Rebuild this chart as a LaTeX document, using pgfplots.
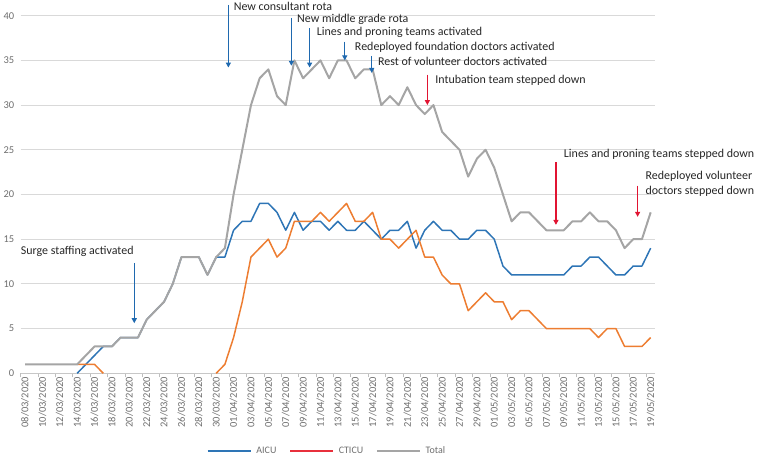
\documentclass[border=0pt]{standalone}
\usepackage{fontspec}
\setmainfont{Carlito}
\usepackage{pgfplots}
\pgfplotsset{compat=1.18}
\usepackage{pgfplotstable}
\usetikzlibrary{arrows.meta}

\definecolor{aicu}{RGB}{46,117,182}
\definecolor{cticu}{RGB}{237,125,49}
\definecolor{cticuleg}{RGB}{232,48,60}
\definecolor{total}{RGB}{165,165,165}
\definecolor{arrblue}{RGB}{31,105,175}
\definecolor{arrred}{RGB}{225,20,50}
\definecolor{gridc}{RGB}{217,217,217}
\definecolor{tickc}{RGB}{110,110,110}

% day index 0 = 08/03/2020 ... 72 = 19/05/2020
\pgfplotstableread{
i  aicu cticu total
0  nan  nan   1
1  nan  nan   1
2  nan  nan   1
3  nan  nan   1
4  nan  nan   1
5  nan  nan   1
6  0    1     1
7  1    1     2
8  2    1     3
9  3    0     3
10 3    nan   3
11 4    nan   4
12 4    nan   4
13 4    nan   4
14 6    nan   6
15 7    nan   7
16 8    nan   8
17 10   nan   10
18 13   nan   13
19 13   nan   13
20 13   nan   13
21 11   nan   11
22 13   0     13
23 13   1     14
24 16   4     20
25 17   8     25
26 17   13    30
27 19   14    33
28 19   15    34
29 18   13    31
30 16   14    30
31 18   17    35
32 16   17    33
33 17   17    34
34 17   18    35
35 16   17    33
36 17   18    35
37 16   19    35
38 16   17    33
39 17   17    34
40 16   18    34
41 15   15    30
42 16   15    31
43 16   14    30
44 17   15    32
45 14   16    30
46 16   13    29
47 17   13    30
48 16   11    27
49 16   10    26
50 15   10    25
51 15   7     22
52 16   8     24
53 16   9     25
54 15   8     23
55 12   8     20
56 11   6     17
57 11   7     18
58 11   7     18
59 11   6     17
60 11   5     16
61 11   5     16
62 11   5     16
63 12   5     17
64 12   5     17
65 13   5     18
66 13   4     17
67 12   5     17
68 11   5     16
69 11   3     14
70 12   3     15
71 12   3     15
72 14   4     18
}\data

\begin{document}
\begin{tikzpicture}
\begin{axis}[
    name=ax,
    scale only axis,
    width=634.3bp, height=357.6bp,
    xmin=-0.5, xmax=72.5, ymin=0, ymax=40,
    ytick={0,5,...,40},
    xtick={0,2,...,72},
    xticklabels={08/03/2020,10/03/2020,12/03/2020,14/03/2020,16/03/2020,18/03/2020,
        20/03/2020,22/03/2020,24/03/2020,26/03/2020,28/03/2020,30/03/2020,
        01/04/2020,03/04/2020,05/04/2020,07/04/2020,09/04/2020,11/04/2020,
        13/04/2020,15/04/2020,17/04/2020,19/04/2020,21/04/2020,23/04/2020,
        25/04/2020,27/04/2020,29/04/2020,01/05/2020,03/05/2020,05/05/2020,
        07/05/2020,09/05/2020,11/05/2020,13/05/2020,15/05/2020,17/05/2020,19/05/2020},
    minor xtick={-0.5,1.5,...,72.5},
    major tick length=0pt,
    minor tick length=4bp,
    tick align=outside,
    x tick style={draw=gridc!70!gray, line width=0.8bp},
    y tick style={draw=none},
    /pgf/number format/assume math mode=true,
    x tick label style={rotate=90, anchor=east, font=\fontsize{10.5}{12}\selectfont, text=tickc},
    y tick label style={font=\fontsize{10.5}{12}\selectfont, text=tickc, xshift=-3bp},
    axis lines*=left,
    y axis line style={draw=none},
    x axis line style={draw=gridc!80!gray, line width=0.9bp},
    ymajorgrids,
    grid style={draw=gridc, line width=0.9bp},
    clip=false,
    unbounded coords=jump,
    legend style={at={(0.483,-0.217)}, anchor=center, draw=none, fill=none,
        legend columns=-1, font=\fontsize{10}{12}\selectfont, text=tickc,
        /tikz/every odd column/.append style={column sep=3bp},
        /tikz/every even column/.append style={column sep=11bp}},
    legend image code/.code={\draw[#1] (0bp,0bp) -- (43bp,0bp);},
]
\addlegendimage{aicu, line width=1.4bp}
\addlegendentry{AICU}
\addlegendimage{cticuleg, line width=1.4bp}
\addlegendentry{CTICU}
\addlegendimage{total, line width=1.4bp}
\addlegendentry{Total}

\addplot[forget plot, aicu, line width=1.5bp, line join=round] table[x=i, y=aicu] {\data};
\addplot[forget plot, cticu, line width=1.5bp, line join=round] table[x=i, y=cticu] {\data};
\addplot[forget plot, total, line width=2bp, line join=round] table[x=i, y=total] {\data};

% annotations
\tikzset{ann/.style={anchor=west, inner sep=0pt, font=\fontsize{12}{15}\selectfont, text=black!85},
         barr/.style={arrblue, line width=1.2bp, -{Triangle[length=5bp,width=5bp]}},
         rarr/.style={arrred, line width=1.2bp, -{Triangle[length=5bp,width=5bp]}}}
\draw[barr] (axis cs:23.4,41.2) -- (axis cs:23.4,34.2);
\node[ann] at (axis cs:24.0,41.06) {New consultant rota};
\draw[barr] (axis cs:30.65,39.75) -- (axis cs:30.65,34.4);
\node[ann] at (axis cs:31.3,39.6) {New middle grade rota};
\draw[barr] (axis cs:32.75,38.6) -- (axis cs:32.75,34.2);
\node[ann] at (axis cs:33.56,38.1) {Lines and proning teams activated};
\draw[barr] (axis cs:36.8,37.1) -- (axis cs:36.8,35.0);
\node[ann] at (axis cs:37.95,36.5) {Redeployed foundation doctors activated};
\draw[barr] (axis cs:39.9,35.5) -- (axis cs:39.9,33.6);
\node[ann] at (axis cs:40.6,34.85) {Rest of volunteer doctors activated};
\draw[rarr] (axis cs:46.3,33.4) -- (axis cs:46.3,30.0);
\node[ann] at (axis cs:47.2,32.8) {Intubation team stepped down};
\draw[rarr] (axis cs:61.1,23.6) -- (axis cs:61.1,16.6);
\node[ann] at (axis cs:62.0,24.5) {Lines and proning teams stepped down};
\draw[rarr] (axis cs:70.5,21.0) -- (axis cs:70.5,17.5);
\node[ann, align=left] at (axis cs:71.4,21.15) {Redeployed volunteer\\doctors stepped down};
\draw[barr] (axis cs:12.57,12.35) -- (axis cs:12.57,5.6);
\node[ann] at (axis cs:-0.5,13.6) {Surge staffing activated};
\end{axis}
\pgfresetboundingbox
\path[use as bounding box] ([shift={(-20.7bp,-82.7bp)}]ax.south west) rectangle ([shift={(105bp,15.7bp)}]ax.north east);
\end{tikzpicture}
\end{document}
